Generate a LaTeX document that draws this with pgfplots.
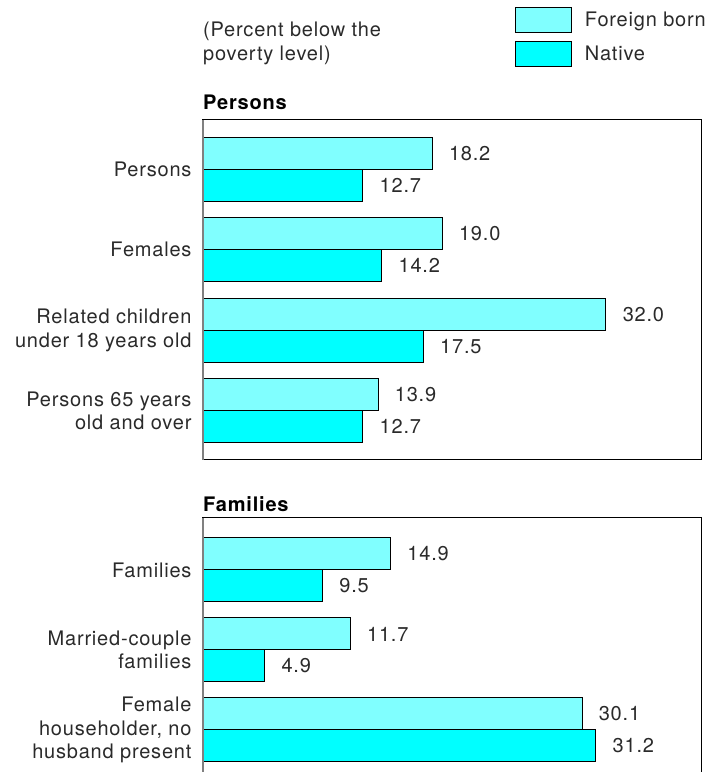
\documentclass[border=0pt]{standalone}
\usepackage{fontspec}
\setmainfont[LetterSpace=4]{TeX Gyre Heros}
\usepackage{pgfplots}
\pgfplotsset{compat=1.18}
\definecolor{foreign}{HTML}{80FFFF}
\definecolor{native}{HTML}{00FFFF}
\definecolor{txt}{HTML}{2A2A2A}
\newcommand{\lab}{\fontsize{20}{23.5}\selectfont}

% 1px of the reference = 1pt here
\pgfplotsset{
  panel/.style={
    xbar, scale only axis, width=498pt,
    xmin=0, xmax=39.55,
    xtick=\empty, major tick length=0pt,
    axis line style={black, line width=1pt},
    bar width=32pt,
    yticklabel style={align=right, font=\lab, text=txt, xshift=-8pt},
    /pgf/number format/assume math mode=true,
    nodes near coords={\pgfmathprintnumber[fixed,fixed zerofill,precision=1,assume math mode=true]{\pgfplotspointmeta}},
    every node near coord/.append style={anchor=west, xshift=13pt, font=\lab, text=txt},
    clip=false,
  },
  fb/.style={draw=black, line width=1pt, fill=foreign, bar shift=16pt},
  nt/.style={draw=black, line width=1pt, fill=native, bar shift=-16pt},
}

\begin{document}
\begin{tikzpicture}
\begin{scope}
\clip (0,0) rectangle (719pt,772pt);

% ---- Persons panel
\begin{axis}[panel, height=340pt, at={(203pt,312pt)}, anchor=south west,
  ymin=-0.61, ymax=3.61,
  ytick={0,1,2,3},
  yticklabels={{Persons 65 years\\old and over}, {Related children\\under 18 years old}, Females, Persons},
  legend style={draw=none, fill=none, at={(rel axis cs:0.626,1.333)}, anchor=north west,
    font=\lab, text=txt, inner sep=0pt, row sep=8pt,
    /tikz/every odd column/.append style={column sep=11pt}},
  legend image code/.code={\draw[#1, line width=1pt] (0pt,-12.5pt) rectangle (56pt,12.5pt);},
  legend cell align=left,
]
\addplot[fb] coordinates {(18.2,3) (19.0,2) (32.0,1) (13.9,0)};
\addplot[nt] coordinates {(12.7,3) (14.2,2) (17.5,1) (12.7,0)};
\legend{Foreign born, Native}
\draw[gray, line width=1.5pt] (rel axis cs:0,0) -- (rel axis cs:0,1);
\end{axis}

% ---- Families panel
\begin{axis}[panel, height=261pt, at={(203pt,-7pt)}, anchor=south west,
  ymin=-0.6125, ymax=2.65,
  ytick={0,1,2},
  yticklabels={{Female\\householder, no\\husband present}, {Married-couple\\families}, Families},
]
\addplot[fb] coordinates {(14.9,2) (11.7,1) (30.1,0)};
\addplot[nt] coordinates {(9.5,2) (4.9,1) (31.2,0)};
\draw[gray, line width=1.5pt] (rel axis cs:0,0) -- (rel axis cs:0,1);
\end{axis}

\node[anchor=base west, inner sep=0pt, font=\lab\bfseries] at (203pt,{772pt-110pt}) {Persons};
\node[anchor=base west, inner sep=0pt, font=\lab\bfseries] at (203pt,{772pt-512pt}) {Families};
\node[anchor=north west, inner sep=0pt, align=left, font=\lab, text=txt] at (203pt,{772pt-22pt})
  {(Percent below the\\poverty level)};
\end{scope}
\pgfresetboundingbox
\path[use as bounding box] (0,0) rectangle (719pt,772pt);
\end{tikzpicture}
\end{document}
